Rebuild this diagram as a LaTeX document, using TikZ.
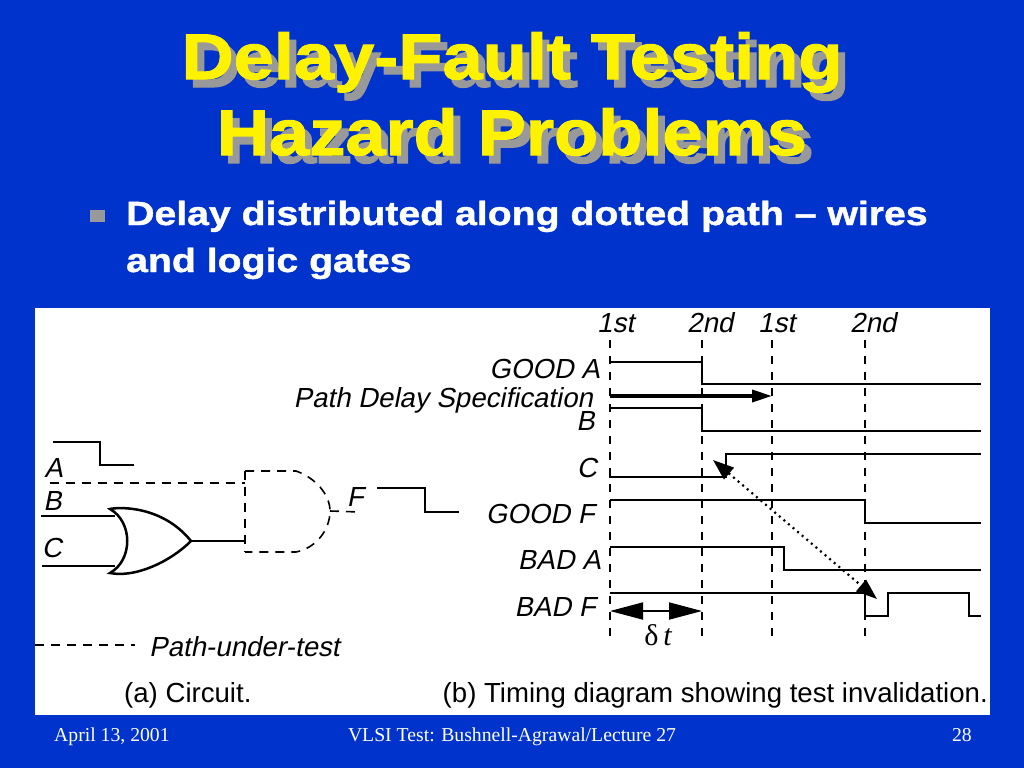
\documentclass[tikz,border=0pt]{standalone}
\usepackage{fontspec}
\setmainfont{Liberation Sans}
\newfontfamily\titlefont[FakeBold=1.7,FakeStretch=1.12]{Liberation Sans Bold}
\newfontfamily\bodyfont[FakeBold=1.3,FakeStretch=1.17]{Liberation Sans Bold}
\newfontfamily\footfont{Liberation Serif}
\newfontfamily\figfont{Liberation Sans}
\newfontfamily\figit[FakeSlant=0.2]{Liberation Sans}
\newfontfamily\deltafont{Liberation Serif}
\usetikzlibrary{arrows.meta}
\definecolor{slideblue}{HTML}{0033CC}
\definecolor{shadowgrey}{HTML}{999999}
\begin{document}
\begin{tikzpicture}[x=1pt,y=-1pt,
  wave/.style={line width=1.8pt,black,line join=miter},
  guide/.style={line width=1.8pt,black,dash pattern=on 8pt off 8pt},
  path test/.style={line width=1.6pt,black,dash pattern=on 9pt off 7pt},
  titletext/.style={font=\titlefont\fontsize{64.5}{64.5}\selectfont,inner sep=0pt,anchor=base},
  bodytext/.style={font=\bodyfont\fontsize{33.5}{33.5}\selectfont,white,inner sep=0pt,anchor=base west},
  foottext/.style={font=\footfont\fontsize{19.7}{19.7}\selectfont,white,inner sep=0pt,anchor=base},
  figlabel/.style={font=\figit\fontsize{27.6}{27.6}\selectfont,black,inner sep=0pt,anchor=base east},
  figcaption/.style={font=\figfont\fontsize{27.6}{27.6}\selectfont,black,inner sep=0pt,anchor=base west},
  bighead/.tip={Triangle[length=33pt,width=17pt]},
  midhead/.tip={Triangle[length=21pt,width=15pt]}]
\useasboundingbox (0,0) rectangle (1024,768);
\fill[slideblue] (0,0) rectangle (1024,768);
\fill[white] (35,308) rectangle (990,715);
% title
\node[titletext,shadowgrey] (ts1) at (519,87) {Delay-Fault Testing};
\node[titletext,shadowgrey] (ts2) at (519,163) {Hazard Problems};
\node[titletext,yellow] (t1) at (512,79) {Delay-Fault Testing};
\node[titletext,yellow] (t2) at (512,155) {Hazard Problems};
% bullet
\fill[shadowgrey] (90,210) rectangle (105,222);
\node[bodytext] (b1) at (126,225) {Delay distributed along dotted path – wires};
\node[bodytext] (b2) at (126,272) {and logic gates};
% footer
\node[foottext,anchor=base west] (f1) at (54,741) {April 13, 2001};
\node[foottext] (f2) at (512,741) {VLSI Test: Bushnell-Agrawal/Lecture 27};
\node[foottext,anchor=base east] (f3) at (972,741) {28};
% circuit
\draw[wave] (53,442) -- (100,442) -- (100,465) -- (134,465);
\node[figlabel] (la) at (63,477) {A};
\node[figlabel] (lb) at (62,510) {B};
\node[figlabel] (lc) at (62,557) {C};
\node[figlabel] (lf) at (364,506) {F};
\coordinate (orb) at (115,516);
\coordinate (orc) at (115,566);
\coordinate (oro) at (191,541);
\coordinate (andi) at (245,541);
\draw[wave] (41,516) -- (orb);
\draw[wave] (42,566) -- (orc);
\draw[line width=2.5pt,black,line join=miter]
  (110,509) .. controls (118,507) and (162,505) .. (oro)
  .. controls (170,562) and (135,578) .. (110,573)
  .. controls (133,560) and (133,522) .. (110,509) -- cycle;
\draw[wave] (oro) -- (andi);
\draw[path test] (245,471) -- (296,471) .. controls (316,478) and (330,495) .. (330,511)
  .. controls (330,530) and (316,548) .. (296,552) -- (245,552);
\draw[path test] (245,471) -- (245,552);
\draw[path test] (50,483) -- (245,483);
\draw[path test] (330,511) -- (360,512);
\draw[wave] (377,488) -- (425,488) -- (425,512) -- (459,512);
\draw[path test] (35,645) -- (135,645);
\node[figlabel,anchor=base west] (put) at (149,656) {Path-under-test};
\node[figcaption] (capa) at (124,702) {(a) Circuit.};
\node[figcaption,anchor=base east] (capb) at (988,702) {(b) Timing diagram showing test invalidation.};
% timing guides
\foreach \x/\n in {610/a,702/b,772/c,865/d}{
  \coordinate (top\n) at (\x,340);
  \coordinate (bot\n) at (\x,640);
  \draw[guide] (top\n) -- (bot\n);
}
\node[figlabel,anchor=base west] (h1) at (597,332) {1st};
\node[figlabel,anchor=base west] (h2) at (687,332) {2nd};
\node[figlabel,anchor=base west] (h3) at (758,332) {1st};
\node[figlabel,anchor=base west] (h4) at (850,332) {2nd};
\node[figlabel] (g1) at (600,378) {GOOD A};
\node[figlabel] (g2) at (593,407) {Path Delay Specification};
\node[figlabel] (g3) at (595,430) {B};
\node[figlabel] (g4) at (597,477) {C};
\node[figlabel] (g5) at (595,523) {GOOD F};
\node[figlabel] (g6) at (601,569) {BAD A};
\node[figlabel] (g7) at (596,616) {BAD F};
% waves
\draw[wave] (610,362) -- (702,362) -- (702,384) -- (981,384);
\draw[wave] (610,408) -- (702,408) -- (702,431) -- (981,431);
\draw[wave] (610,470) -- (610,477) -- (726,477) -- (726,454) -- (981,454);
\draw[wave] (610,500) -- (865,500) -- (865,523) -- (981,523);
\draw[wave] (610,547) -- (784,547) -- (784,570) -- (981,570);
\draw[wave] (610,593) -- (865,593) -- (865,616) -- (888,616) -- (888,593) -- (969,593) -- (969,616) -- (981,616);
% path delay arrow
\coordinate (spa) at (610,396);
\coordinate (spb) at (772,396);
\draw[line width=3.5pt,black,-{Triangle[length=20pt,width=12pt]}] (spa) -- (spb);
% delta t arrow
\coordinate (da) at (610,611);
\coordinate (db) at (702,611);
\draw[line width=1.8pt,black,{bighead}-{bighead}] (da) -- (db);
\node[inner sep=0pt,anchor=base,black,font=\deltafont\fontsize{30}{30}\selectfont] (dt) at (658,645) {δ\,\itshape t};
% dotted arrow
\coordinate (dota) at (713,460);
\coordinate (dotb) at (877,599);
\draw[line width=2.2pt,black,dash pattern=on 2pt off 4pt,{midhead}-{midhead}] (dota) -- (dotb);
\end{tikzpicture}
\end{document}
